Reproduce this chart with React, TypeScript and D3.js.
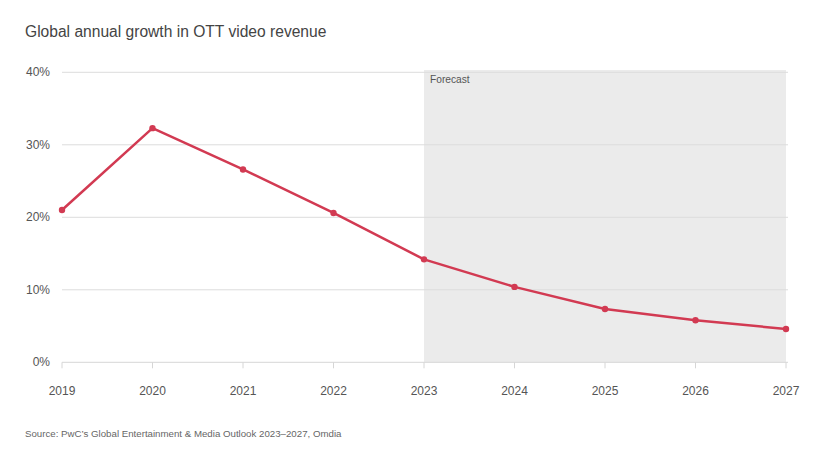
import React from "react";
import * as d3 from "d3";

const years = [2019, 2020, 2021, 2022, 2023, 2024, 2025, 2026, 2027];
const growth = [21.0, 32.3, 26.6, 20.6, 14.2, 10.4, 7.35, 5.8, 4.6];
const yTicks = [0, 10, 20, 30, 40];
const forecastStart = 2023;
const title = "Global annual growth in OTT video revenue";
const source = "Source: PwC\u2019s Global Entertainment & Media Outlook 2023\u20132027, Omdia";

export default function App() {
  const W = 821, H = 451;
  const x = d3.scaleLinear().domain([2019, 2027]).range([62, 786]);
  const y = d3.scaleLinear().domain([0, 40]).range([362.3, 72.3]);
  const line = d3.line<number>().x((_, i) => x(years[i])).y((d) => y(d));
  const font = "'Liberation Sans', Arial, Helvetica, sans-serif";
  return (
    <svg width={W} height={H} style={{ position: "absolute", left: 0, top: 0, background: "#fff" }} fontFamily={font}>
      <text x={25} y={37} fontSize={15.6} fill="#444">{title}</text>
      <rect x={x(forecastStart)} y={70} width={x(2027) - x(forecastStart)} height={y(0) - 70} fill="#ebebeb" />
      {yTicks.map((t) => (
        <g key={t}>
          <line x1={62} x2={788} y1={y(t)} y2={y(t)} stroke={t === 0 ? "#d6d6d6" : "#dcdcdc"} strokeWidth={1} />
          <text x={50} y={y(t) + 4} textAnchor="end" fontSize={12} fill="#555">{t}%</text>
        </g>
      ))}
      {years.map((yr) => (
        <g key={yr}>
          <line x1={x(yr)} x2={x(yr)} y1={y(0)} y2={y(0) + 6} stroke="#d6d6d6" />
          <text x={x(yr)} y={395} textAnchor="middle" fontSize={12} fill="#555">{yr}</text>
        </g>
      ))}
      <text x={x(forecastStart) + 6} y={83} fontSize={10.2} fill="#555">Forecast</text>
      <path d={line(growth) || ""} fill="none" stroke="#d23a52" strokeWidth={2.5} strokeLinejoin="round" />
      {growth.map((v, i) => (
        <circle key={i} cx={x(years[i])} cy={y(v)} r={3.2} fill="#d23a52" />
      ))}
      <text x={25} y={437} fontSize={9.7} fill="#666">{source}</text>
    </svg>
  );
}
